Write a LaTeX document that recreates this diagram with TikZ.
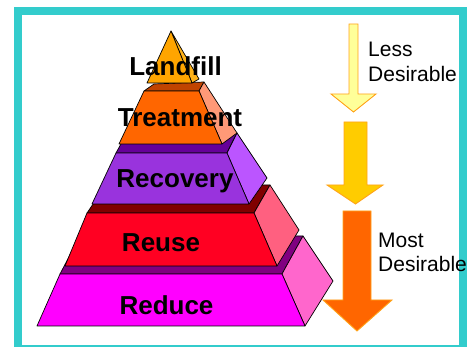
\documentclass[tikz,border=0pt]{standalone}
\usepackage{fontspec}
\setmainfont{Liberation Sans}
\definecolor{frameteal}{HTML}{33CCCC}
\definecolor{lfront}{HTML}{FFA500}
\definecolor{lside}{HTML}{FFB31A}
\definecolor{tfront}{HTML}{FF6600}
\definecolor{ttop}{HTML}{C04400}
\definecolor{tside}{HTML}{FF9977}
\definecolor{rcfront}{HTML}{9933DD}
\definecolor{rctop}{HTML}{660099}
\definecolor{rcside}{HTML}{BB55FF}
\definecolor{rufront}{HTML}{FF0022}
\definecolor{rutop}{HTML}{800000}
\definecolor{ruside}{HTML}{FF6080}
\definecolor{rdfront}{HTML}{FF00FF}
\definecolor{rdtop}{HTML}{800080}
\definecolor{rdside}{HTML}{FF66CC}
\definecolor{arrowline}{HTML}{FFA31A}
\definecolor{lessfill}{HTML}{FFFF99}
\definecolor{midfill}{HTML}{FFCC00}
\definecolor{mostfill}{HTML}{FF6600}
\begin{document}
\begin{tikzpicture}[x=1pt,y=-1pt,
    face/.style={draw=black,line width=.7pt,line join=round},
    layer/.style={font=\fontsize{26}{28}\selectfont\bfseries,anchor=base,inner sep=0pt},
    note/.style={font=\fontsize{21}{25}\selectfont,anchor=base west,inner sep=0pt},
    downarrow/.style={line width=.9pt,line join=miter}]

    \clip (0,0) rectangle (469,347);
    \draw[frameteal,line width=7.8pt] (18.3,11.2) rectangle (463,349);

    % Reduce
    \fill[face,fill=rdtop] (60,274) -- (282,274) -- (303,236) -- (80,236) -- cycle;
    \fill[face,fill=rdside] (282,274) -- (303,236) -- (333,281) -- (305,326) -- cycle;
    \fill[face,fill=rdfront] (37,326) -- (60,274) -- (282,274) -- (305,326) -- cycle;
    % Reuse
    \fill[face,fill=rutop] (87,213) -- (254,213) -- (270,185) -- (106,185) -- cycle;
    \fill[face,fill=ruside] (254,213) -- (270,185) -- (299,230) -- (277,266) -- cycle;
    \fill[face,fill=rufront] (65,266) -- (87,213) -- (254,213) -- (277,266) -- cycle;
    % Recovery
    \fill[face,fill=rctop] (116,153) -- (227,153) -- (237,133) -- (127,133) -- cycle;
    \fill[face,fill=rcside] (227,153) -- (237,133) -- (267,178) -- (249,204) -- cycle;
    \fill[face,fill=rcfront] (92,204) -- (116,153) -- (227,153) -- (249,204) -- cycle;
    % Treatment
    \fill[face,fill=ttop] (144,91) -- (199,91) -- (204,82) -- (154,84) -- cycle;
    \fill[face,fill=tside] (199,91) -- (204,82) -- (237,133) -- (222,144) -- cycle;
    \fill[face,fill=tfront] (119,144) -- (144,91) -- (199,91) -- (222,144) -- cycle;
    % Landfill
    \fill[face,fill=lside] (171,31) -- (199,79) -- (192,83) -- cycle;
    \fill[face,fill=lfront] (171,31) -- (147,83) -- (192,83) -- cycle;

    \foreach \name/\x/\y in {Landfill/175.5/76,Treatment/180/127,Recovery/175/188,
      Reuse/161/252,Reduce/166.5/315} {
      \node[layer] (\name) at (\x,\y) {\name};
    }

    % arrows: shaft left/right, shaft top, head top, head left/right, tip, fill
    \foreach \sl/\sr/\st/\hb/\hl/\hr/\tip/\col in {349/358/24/94/331/376/112/lessfill,
      344/367/122/185/327/383/204/midfill,
      343/371/211/300/323/392/331/mostfill} {
      \filldraw[downarrow,fill=\col,draw=arrowline]
        (\sl,\st) -- (\sr,\st) -- (\sr,\hb) -- (\hr,\hb) -- ({(\sl+\sr)/2},\tip)
        -- (\hl,\hb) -- (\sl,\hb) -- cycle;
    }

    \node[note] (less) at (368,57) {Less};
    \node[note] (lessdes) at (368,82) {Desirable};
    \node[note] (most) at (378,248) {Most};
    \node[note] (mostdes) at (378,272) {Desirable};

  \end{tikzpicture}
\end{document}
